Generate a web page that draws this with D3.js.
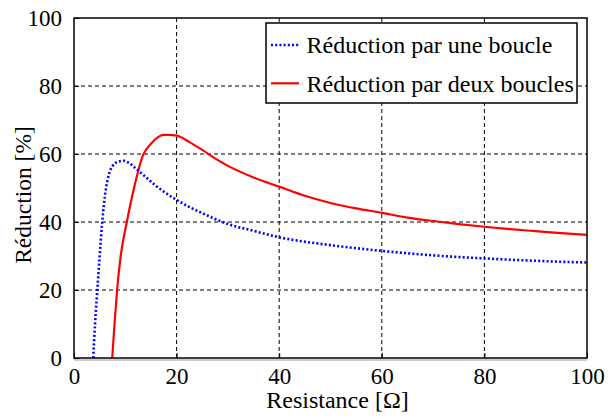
<!DOCTYPE html>
<html><head><meta charset="utf-8">
<script src="https://cdn.jsdelivr.net/npm/d3@7"></script>
<style>
html,body{margin:0;padding:0;background:#fff;}
svg{display:block;}
</style></head>
<body><svg id="chart" width="610" height="417"></svg>
<script>
// Data
const xTicks = [0, 20, 40, 60, 80, 100];
const yTicks = [0, 20, 40, 60, 80, 100];
const seriesNames = ["Réduction par une boucle", "Réduction par deux boucles"];
const unePoints = [
  [3.75,0],[4.1,10],[4.55,20],[5.0,30],[5.5,40],[6.2,49.5],[6.8,54],[7.5,56.4],[8.5,57.7],[9.75,58],
  [10.7,57.4],[12,55.8],[14,53.2],[16,50.6],[18,48.4],[20,46.5],[22.5,44.4],[25,42.6],[27.5,40.9],[30,39.4],
  [35,37.4],[40,35.5],[45,34.2],[50,33.2],[55,32.3],[60,31.5],[65,30.8],[70,30.2],[75,29.7],
  [80,29.3],[85,28.9],[90,28.6],[95,28.3],[100,28.1]
];
const deuxPoints = [
  [7.45,0],[7.9,10],[8.4,20],[9.1,30],[10.3,40],[11.7,50],[13.5,59.8],[15,63],[16.3,64.9],[17.4,65.6],
  [18.5,65.6],[20,65.4],[22.5,63.5],[25,61.2],[27.5,58.7],[30,56.5],[35,53.1],[40,50.4],[45,47.7],
  [50,45.6],[55,44],[60,42.7],[65,41.3],[70,40.3],[75,39.4],[80,38.6],[85,37.9],[90,37.3],[95,36.7],[100,36.2]
];

const FONT = "Liberation Serif";
const FS = 23;
const svg = d3.select("#chart").attr("font-family", FONT);
const m = {left:74, right:587, top:18, bottom:358};
const x = d3.scaleLinear().domain([0,100]).range([m.left, m.right]);
const y = d3.scaleLinear().domain([0,100]).range([m.bottom, m.top]);

svg.append("defs").append("clipPath").attr("id","clip")
  .append("rect").attr("x",m.left).attr("y",m.top).attr("width",m.right-m.left).attr("height",m.bottom-m.top);

// grid
const grid = svg.append("g");
grid.selectAll("line.gx").data(xTicks.slice(1,-1)).join("line")
  .attr("x1",d=>x(d)).attr("x2",d=>x(d)).attr("y1",m.top).attr("y2",m.bottom)
  .attr("stroke","#000").attr("stroke-width",1).attr("stroke-dasharray","4,3");
grid.selectAll("line.gy").data(yTicks.slice(1,-1)).join("line")
  .attr("x1",m.left).attr("x2",m.right).attr("y1",d=>y(d)).attr("y2",d=>y(d))
  .attr("stroke","#000").attr("stroke-width",1).attr("stroke-dasharray","4,3");

// axes
const xAxis = svg.append("g").attr("transform",`translate(0,${m.bottom})`)
  .call(d3.axisBottom(x).tickValues(xTicks).tickSize(-5).tickPadding(9).tickFormat(d3.format("d")));
const yAxis = svg.append("g").attr("transform",`translate(${m.left},0)`)
  .call(d3.axisLeft(y).tickValues(yTicks).tickSize(-5).tickPadding(12).tickFormat(d3.format("d")));
[xAxis,yAxis].forEach(a=>{
  a.attr("font-family",FONT).attr("font-size",FS);
  a.select(".domain").remove();
  a.selectAll(".tick line").attr("stroke","#000").attr("stroke-width",1);
  a.selectAll(".tick text").attr("font-family",FONT).attr("font-size",FS).attr("fill","#000");
});
xAxis.selectAll(".tick text").attr("dy","0.72em");
yAxis.selectAll(".tick text").attr("dy","0.33em");

// light grey shadow under bottom axis
svg.append("line").attr("x1",m.left).attr("x2",m.right).attr("y1",m.bottom+2).attr("y2",m.bottom+2)
  .attr("stroke","#bbb").attr("stroke-width",1.5);

// curves
const line = d3.line().x(d=>x(d[0])).y(d=>y(d[1])).curve(d3.curveMonotoneX);
const curves = svg.append("g").attr("clip-path","url(#clip)");
curves.append("path").datum(deuxPoints).attr("d",line)
  .attr("fill","none").attr("stroke","#ff0000").attr("stroke-width",2.2);
curves.append("path").datum(unePoints).attr("d",line)
  .attr("fill","none").attr("stroke","#0000ff").attr("stroke-width",2.6).attr("stroke-dasharray","2,2.2");

// frame
svg.append("rect").attr("x",m.left).attr("y",m.top).attr("width",m.right-m.left).attr("height",m.bottom-m.top)
  .attr("fill","none").attr("stroke","#000").attr("stroke-width",1.5);

// legend
const lg = svg.append("g");
lg.append("rect").attr("x",266).attr("y",23).attr("width",311).attr("height",80)
  .attr("fill","#fff").attr("stroke","#000").attr("stroke-width",1.5);
const lStyles = [{c:"#0000ff",w:2.6,dash:"2,2.2"},{c:"#ff0000",w:2.2,dash:null}];
seriesNames.forEach((name,i)=>{
  const yy = 45 + i*38.3;
  const l = lg.append("line").attr("x1",271).attr("x2",299).attr("y1",yy).attr("y2",yy)
    .attr("stroke",lStyles[i].c).attr("stroke-width",lStyles[i].w);
  if (lStyles[i].dash) l.attr("stroke-dasharray",lStyles[i].dash);
  lg.append("text").attr("x",306.5).attr("y",yy+8.3).attr("font-family",FONT).attr("font-size",24).attr("fill","#000").text(name);
});

// axis titles
svg.append("text").attr("x",(m.left+m.right)/2 + 7).attr("y",408).attr("text-anchor","middle")
  .attr("font-family",FONT).attr("font-size",24).attr("fill","#000").text("Resistance [Ω]");
svg.append("text").attr("transform",`translate(31,${(m.top+m.bottom)/2 + 7}) rotate(-90)`).attr("text-anchor","middle")
  .attr("font-family",FONT).attr("font-size",23.5).attr("fill","#000").text("Réduction [%]");
</script></body></html>
